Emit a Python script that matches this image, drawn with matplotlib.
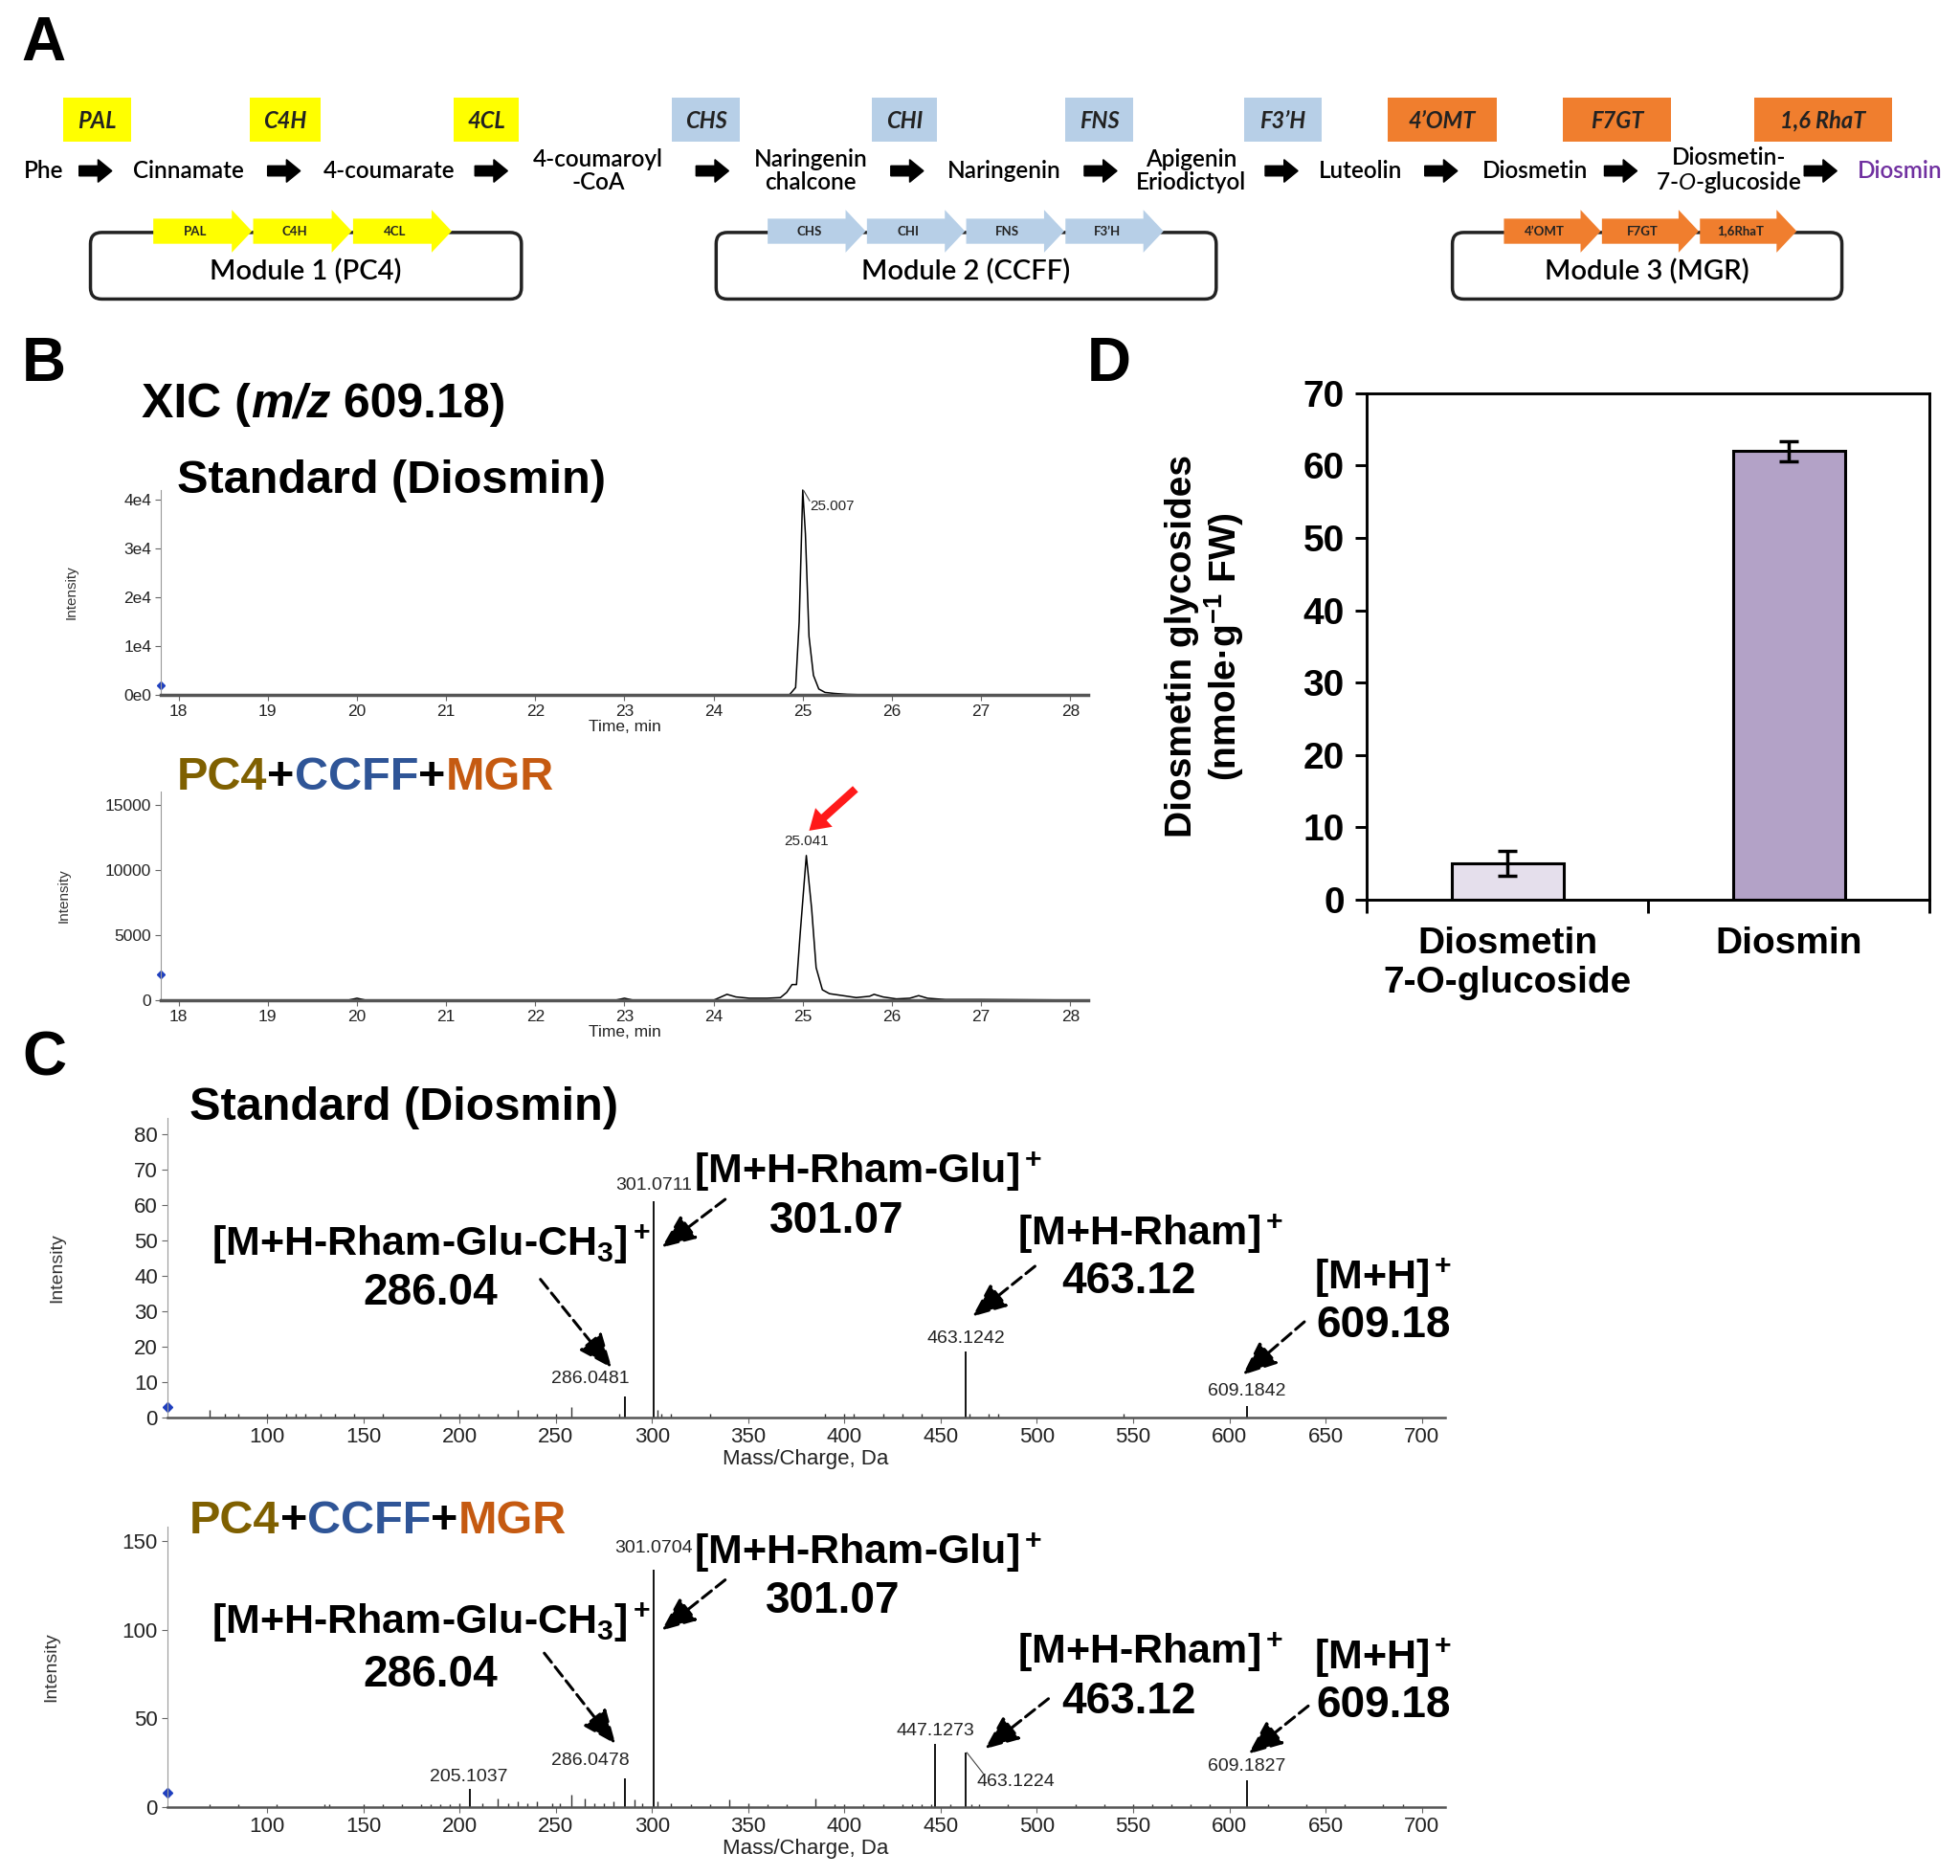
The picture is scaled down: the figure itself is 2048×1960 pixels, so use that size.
import numpy as np
import matplotlib
matplotlib.use('Agg')
import matplotlib.pyplot as plt
from matplotlib import font_manager
from matplotlib.patches import Rectangle, FancyBboxPatch, Polygon, FancyArrow

# ---- fonts ----
_names = {f.name for f in font_manager.fontManager.ttflist}
NARROW = 'Liberation Sans Narrow' if 'Liberation Sans Narrow' in _names else 'Liberation Sans'
ARIAL = 'Liberation Sans'
CAL = 'Lato' if 'Lato' in _names else 'DejaVu Sans'

plt.rcParams['font.family'] = [NARROW, 'DejaVu Sans']
plt.rcParams['mathtext.fontset'] = 'custom'
plt.rcParams['mathtext.rm'] = NARROW + ':bold'
plt.rcParams['mathtext.it'] = CAL + ':italic'

# ---- panel A: pathway ----
metabolites = ['Phe', 'Cinnamate', '4-coumarate', '4-coumaroyl\n-CoA', 'Naringenin\nchalcone',
               'Naringenin', 'Apigenin\nEriodictyol', 'Luteolin', 'Diosmetin',
               'Diosmetin-\n7-$\\mathit{O}$-glucoside', 'Diosmin']
enzymes = ['PAL', 'C4H', '4CL', 'CHS', 'CHI', 'FNS', 'F3’H', '4’OMT', 'F7GT', '1,6 RhaT']
enzyme_module = [0, 0, 0, 1, 1, 1, 1, 2, 2, 2]
modules = ['Module 1 (PC4)', 'Module 2 (CCFF)', 'Module 3 (MGR)']
module_genes = [['PAL', 'C4H', '4CL'], ['CHS', 'CHI', 'FNS', 'F3’H'], ['4’OMT', 'F7GT', '1,6RhaT']]
module_colors = ['#FFFF00', '#B7CFE7', '#F07E2E']

# ---- panel B: XIC traces (time, min / intensity) ----
std_time = [17.8, 24.85, 24.92, 24.96, 25.0, 25.03, 25.07, 25.12, 25.18, 25.25, 25.35, 25.5, 25.7, 28.2]
std_int = [0, 0, 1500, 15000, 42000, 33000, 12000, 4000, 1200, 500, 300, 100, 0, 0]
smp_time = [17.8, 19.9, 20.0, 20.1, 22.9, 23.0, 23.1, 24.0, 24.1, 24.15, 24.25, 24.4, 24.6, 24.75,
            24.82, 24.88, 24.93, 24.97, 25.04, 25.1, 25.15, 25.22, 25.3, 25.45, 25.6, 25.75, 25.8,
            25.9, 26.05, 26.2, 26.3, 26.4, 26.6, 27.0, 27.5, 28.2]
smp_int = [0, 0, 150, 0, 0, 150, 0, 0, 300, 450, 250, 150, 150, 200,
           600, 1200, 1200, 5000, 11100, 7000, 2500, 800, 500, 350, 200, 300, 450,
           250, 100, 150, 350, 150, 50, 50, 30, 0]
std_peak = (25.007, 42000)
smp_peak = (25.041, 11100)

# ---- panel C: MS/MS spectra (m/z / intensity) ----
ms1_mz = [286.0481, 301.0711, 463.1242, 609.1842]
ms1_int = [6, 61, 18.5, 3.2]
ms1_minor_mz = [70, 78, 85, 100, 110, 115, 120, 128, 135, 145, 160, 190, 200, 210, 220, 230, 240,
                250, 258, 283, 303, 305, 310, 330, 390, 400, 405, 420, 430, 440, 465, 475, 480, 545]
ms1_minor_int = [2, 1, 1, 1, 1, 1, 1, 1, 1, 1, 1, 1, 1, 1, 1, 2, 1,
                 1, 3, 1, 2, 1, 1, 1, 1, 1, 1, 1, 1, 1, 1, 1, 1, 1]
ms2_mz = [205.1037, 286.0478, 301.0704, 447.1273, 463.1224, 609.1827]
ms2_int = [10, 16.3, 133.6, 35.5, 30.6, 15]
ms2_minor_mz = [70, 85, 105, 130, 132, 150, 160, 170, 180, 185, 190, 195, 200, 212, 220, 225, 230,
                235, 240, 248, 252, 258, 265, 270, 275, 280, 291, 295, 303, 310, 320, 330, 340, 350,
                360, 370, 385, 395, 400, 410, 420, 430, 435, 440, 445, 455, 466, 470, 485, 520,
                535, 550, 560, 570, 580, 590, 620, 640, 660, 680, 690]
ms2_minor_int = [1.5, 1.5, 1.5, 1.5, 1.5, 1.5, 1.5, 1.5, 1.5, 1.5, 1.5, 1.5, 2, 2, 5, 2, 3,
                 2, 3, 2, 2, 7, 5, 2, 2, 3, 4, 2, 3, 2, 1.5, 1.5, 4, 2,
                 1.5, 1.5, 5, 1.5, 1.5, 1.5, 1.5, 1.5, 1.5, 1.5, 1.5, 1.5, 1.5, 1.5, 1.5, 1.5,
                 1.5, 1.5, 1.5, 1.5, 1.5, 1.5, 1.5, 1.5, 1.5, 1.5, 1.5]
ion_labels = ['[M+H-Rham-Glu-CH$_3$]$^+$', '[M+H-Rham-Glu]$^+$', '[M+H-Rham]$^+$', '[M+H]$^+$']
ion_values = ['286.04', '301.07', '463.12', '609.18']

# ---- panel D: bar chart ----
categories = ['Diosmetin\n7-O-glucoside', 'Diosmin']
amounts = [5.0, 62.0]
amount_err = [1.7, 1.4]
bar_colors = ['#E5DFEC', '#B3A2C7']

# ---- figure in reference pixel space ----
W, H = 1560, 1493
fig = plt.figure(figsize=(20.48, 19.6), dpi=100)


def P(l, t, r, b):
    return [l / W, 1 - b / H, (r - l) / W, (b - t) / H]


ov = fig.add_axes([0, 0, 1, 1])
ov.set_xlim(0, W)
ov.set_ylim(H, 0)
ov.axis('off')


def multicolor(ax, x, y, parts, **kw):
    t = ax.text(x, y, parts[0][0], color=parts[0][1], ha='left', va='center', **kw)
    for s, c, *extra in parts[1:]:
        kk = dict(kw)
        if extra:
            kk.update(extra[0])
        t = ax.annotate(s, xy=(1, 0), xycoords=t, color=c, ha='left', va='bottom', **kk)
    return t


# panel letters
for lab, (x, y) in zip('ABCD', [(35, 35), (35, 290), (35, 843), (883, 290)]):
    ov.text(x, y, lab, fontsize=46, fontweight='bold', family=ARIAL, ha='center', va='center')

# ---- Panel A drawing ----
met_x = [35, 150, 310, 476, 645, 799, 948, 1083, 1222, 1376, 1512]
arrow_x = [76, 226, 391, 567, 722, 876, 1020, 1147, 1290, 1449]
enz_x = [77, 227, 387, 562, 720, 875, 1021, 1148, 1287, 1451]
enz_w = [54, 56, 52, 54, 52, 54, 62, 87, 86, 110]

for i, m in enumerate(metabolites):
    col = '#7030A0' if m == 'Diosmin' else 'black'
    ov.text(met_x[i], 136, m, fontsize=17.5, family=CAL, fontweight='semibold', color=col,
            ha='center', va='center', linespacing=1.05)
for x in arrow_x:
    ov.add_patch(FancyArrow(x - 13, 136, 26, 0, width=8, head_width=18, head_length=11,
                            length_includes_head=True, color='black'))
for i, e in enumerate(enzymes):
    c = module_colors[enzyme_module[i]]
    ov.add_patch(Rectangle((enz_x[i] - enz_w[i] / 2, 78), enz_w[i], 35, facecolor=c, edgecolor='none'))
    ov.text(enz_x[i], 96, e, fontsize=17, family=CAL, fontweight='bold', style='italic',
            color='#222222', ha='center', va='center')

module_box = [(72, 415), (570, 968), (1156, 1466)]
gene_start = [122, 611, 1197]
gene_len = [79.5, 79, 78]
for k, name in enumerate(modules):
    x0, x1 = module_box[k]
    ov.add_patch(FancyBboxPatch((x0, 185), x1 - x0, 53, boxstyle='round,pad=0,rounding_size=9',
                                facecolor='none', edgecolor='#222222', linewidth=2.5))
    ov.text((x0 + x1) / 2, 216, name, fontsize=21, family=CAL, fontweight='semibold',
            ha='center', va='center')
    for j, g in enumerate(module_genes[k]):
        gx = gene_start[k] + j * gene_len[k]
        ge = gx + gene_len[k] - 1
        hl = 16
        pts = [(gx, 174), (ge - hl, 174), (ge - hl, 167), (ge, 184), (ge - hl, 201), (ge - hl, 194), (gx, 194)]
        ov.add_patch(Polygon(pts, closed=True, facecolor=module_colors[k], edgecolor='none'))
        ov.text((gx + ge - hl) / 2 + 2, 184, g, fontsize=9.5, family=CAL, fontweight='bold',
                color='#222222', ha='center', va='center')

# ---- titles for B and C ----
combo = [('PC4', '#7F6000'), ('+', 'black'), ('CCFF', '#2F5597'), ('+', 'black'), ('MGR', '#C55A11')]
multicolor(ov, 113, 322, [('XIC (', 'black'), ('m/z', 'black', {'style': 'italic'}), (' 609.18)', 'black')],
           fontsize=36, fontweight='bold')
ov.text(141, 383, 'Standard (Diosmin)', fontsize=35, fontweight='bold', ha='left', va='center')
multicolor(ov, 141, 619, combo, fontsize=35, fontweight='bold')
ov.text(151, 882, 'Standard (Diosmin)', fontsize=35, fontweight='bold', ha='left', va='center')
multicolor(ov, 151, 1211, combo, fontsize=35, fontweight='bold')


# ---- Panel B chromatograms ----
def trace_axes(rect, ymax, yticks, ylabels):
    ax = fig.add_axes(P(*rect))
    ax.set_xlim(17.8, 28.2)
    ax.set_ylim(0, ymax)
    ax.set_xticks(range(18, 29))
    ax.set_yticks(yticks)
    ax.set_yticklabels(ylabels)
    for s in ['top', 'right']:
        ax.spines[s].set_visible(False)
    ax.spines['left'].set_color('#999999')
    ax.spines['left'].set_linewidth(0.8)
    ax.spines['bottom'].set_color('#555555')
    ax.spines['bottom'].set_linewidth(2.5)
    ax.tick_params(length=4, width=0.8, color='#666666', labelcolor='#222222', labelsize=12.5, pad=3)
    ax.set_xlabel('Time, min', fontsize=12.5, labelpad=1, color='#222222')
    ax.set_ylabel('Intensity', fontsize=11, family=ARIAL, color='#333333', labelpad=34)
    ax.patch.set_alpha(0)
    return ax


ax1 = trace_axes((128, 390, 866, 553), 42000, [0, 10000, 20000, 30000, 40000],
                 ['0e0', '1e4', '2e4', '3e4', '4e4'])
ax1.plot(std_time, std_int, color='black', lw=1.1, clip_on=False)
ax1.plot([17.8], [2000], marker='D', ms=4, color='#1F3FBF', clip_on=False)
ax1.plot([std_peak[0], std_peak[0] + 0.07], [std_peak[1], 39800], color='#444444', lw=0.8)
ax1.text(std_peak[0] + 0.07, 38600, f'{std_peak[0]:.3f}', fontsize=11, color='#222222', ha='left', va='center')

ax2 = trace_axes((128, 630, 866, 796), 16000, [0, 5000, 10000, 15000], ['0', '5000', '10000', '15000'])
ax2.set_ylabel('Intensity', fontsize=11, family=ARIAL, color='#333333', labelpad=26)
ax2.plot(smp_time, smp_int, color='black', lw=1.1, clip_on=False)
ax2.plot([17.8], [2000], marker='D', ms=4, color='#1F3FBF', clip_on=False)
ax2.text(smp_peak[0], smp_peak[1] + 1100, f'{smp_peak[0]:.3f}', fontsize=11, color='#222222',
         ha='center', va='center')
ax2.annotate('', xy=(smp_peak[0] + 0.03, smp_peak[1] + 1900), xytext=(smp_peak[0] + 0.55, 16200),
             arrowprops=dict(facecolor='#FF1A1A', edgecolor='none', width=6, headwidth=19, headlength=15),
             annotation_clip=False)


# ---- Panel C spectra ----
def spec_axes(rect, ymax, yticks, pad):
    ax = fig.add_axes(P(*rect))
    ax.set_xlim(48, 712)
    ax.set_ylim(0, ymax)
    ax.set_xticks(range(100, 701, 50))
    ax.set_yticks(yticks)
    for s in ['top', 'right']:
        ax.spines[s].set_visible(False)
    ax.spines['left'].set_color('#999999')
    ax.spines['left'].set_linewidth(0.8)
    ax.spines['bottom'].set_color('#555555')
    ax.spines['bottom'].set_linewidth(1.8)
    ax.tick_params(length=4, width=0.8, color='#666666', labelcolor='#222222', labelsize=16, pad=3)
    ax.set_xlabel('Mass/Charge, Da', fontsize=16, labelpad=2, color='#222222')
    ax.set_ylabel('Intensity', fontsize=14, family=ARIAL, color='#333333', labelpad=pad)
    ax.patch.set_alpha(0)
    return ax


def dashed_arrow(ax, start, end):
    ax.annotate('', xy=end, xytext=start, annotation_clip=False,
                arrowprops=dict(arrowstyle='-|>,head_length=1.0,head_width=0.42', linestyle=(0, (4, 2)),
                                lw=2.2, color='black', mutation_scale=22, shrinkA=0, shrinkB=0))


def ions(ax, label_xy, value_xy, arrows):
    for i in range(4):
        ax.text(*label_xy[i], ion_labels[i], fontsize=31, fontweight='bold', ha='center', va='center')
        ax.text(*value_xy[i], ion_values[i], fontsize=33, fontweight='bold', ha='center', va='center')
        dashed_arrow(ax, arrows[i][0], arrows[i][1])


axm1 = spec_axes((133, 890, 1150, 1128), 84.5, range(0, 81, 10), 52)
axm1.vlines(ms1_minor_mz, 0, ms1_minor_int, color='#333333', lw=1)
axm1.vlines(ms1_mz, 0, ms1_int, color='black', lw=1.3)
axm1.plot([48], [3], marker='D', ms=5, color='#1F3FBF', clip_on=False)
for mz, y, ha, xo, yo in zip(ms1_mz, ms1_int, ['right', 'center', 'center', 'center'],
                             [2, 0, 0, 0], [5, 4.5, 3.9, 4.3]):
    axm1.text(mz + xo, y + yo, f'{mz:.4f}', fontsize=14, color='#222222', ha=ha, va='center')
ions(axm1,
     [(185, 49), (412, 69.4), (559, 52), (680, 39.5)],
     [(185, 35), (396, 55.5), (548, 38.4), (680, 26)],
     [((242, 39), (279, 14)), ((338, 61.6), (305, 48)), ((499, 42.7), (466.5, 28.5)), ((639, 27), (607, 12))])

axm2 = spec_axes((133, 1215, 1150, 1438), 158, [0, 50, 100, 150], 47)
axm2.vlines(ms2_minor_mz, 0, ms2_minor_int, color='#333333', lw=1)
axm2.vlines(ms2_mz, 0, ms2_int, color='black', lw=1.3)
axm2.plot([48], [8], marker='D', ms=5, color='#1F3FBF', clip_on=False)
lab_pos = [(204.7, 17), (288, 26.3), (301, 145.7), (447, 42.6), (489, 14.2), (609, 22.7)]
lab_ha = ['center', 'right', 'center', 'center', 'center', 'center']
for mz, (x, y), ha in zip(ms2_mz, lab_pos, lab_ha):
    axm2.text(x, y, f'{mz:.4f}', fontsize=14, color='#222222', ha=ha, va='center')
axm2.plot([ms2_mz[4] + 0.5, 472], [ms2_int[4], 19], color='#444444', lw=0.8)
ions(axm2,
     [(185, 103.8), (412, 143.6), (559, 87.4), (680, 83.9)],
     [(185, 74.6), (394, 115.8), (548, 59), (680, 56.9)],
     [((244, 86.7), (281, 35.5)), ((338, 128), (305, 99.5)), ((506, 61), (473, 32.7)), ((641, 56.9), (610, 29.9))])

# ---- Panel D ----
axd = fig.add_axes(P(1088, 313, 1536, 716))
cat_x = [0.5, 1.5]
axd.bar(cat_x, amounts, width=0.4, color=bar_colors, edgecolor='black', linewidth=2.2,
        yerr=amount_err, error_kw=dict(ecolor='black', elinewidth=2.5, capsize=7, capthick=2.5))
axd.set_xlim(0, 2)
axd.set_ylim(0, 70)
axd.set_yticks(range(0, 71, 10))
axd.set_xticks([0, 1, 2])
axd.set_xticklabels([])
axd.set_xticks(cat_x, minor=True)
axd.set_xticklabels(categories, minor=True)
for s in axd.spines.values():
    s.set_linewidth(2.1)
axd.tick_params(axis='x', which='minor', length=0, pad=20)
axd.tick_params(axis='x', which='major', length=10, width=2.1)
axd.tick_params(axis='y', length=9, width=2.1, pad=8)
for lab in axd.get_yticklabels() + axd.get_xticklabels(minor=True):
    lab.set_fontsize(28)
    lab.set_fontweight('bold')
    lab.set_family(ARIAL)
axd.set_ylabel('Diosmetin glycosides\n(nmole·g$^{-1}$ FW)', fontsize=28, fontweight='bold', family=ARIAL,
               linespacing=1.1)
axd.yaxis.set_label_coords(-0.215, 0.5)

fig.savefig('out.png', dpi=100)
